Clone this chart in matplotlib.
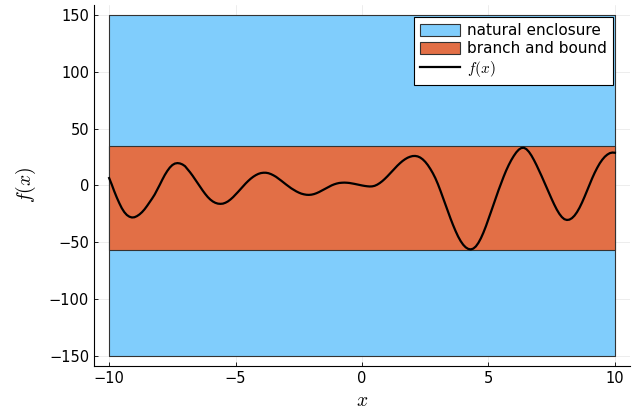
import matplotlib
matplotlib.use('Agg')
import matplotlib.pyplot as plt
import numpy as np

plt.rcParams['mathtext.fontset'] = 'cm'
plt.rcParams['font.family'] = 'DejaVu Sans'

BLUE = '#80CDFC'
ORANGE = '#E26F46'

# enclosures (x range and f range)
x_range = [-10, 10]
natural_enclosure = [-150, 150]
branch_and_bound = [-56.6, 34.7]

x_pts = np.linspace(-10, 10, 201)
f_pts = [
    6.5, 1.0, -5.0, -10.5, -15.5, -20.0, -23.5, -26.0, -27.5, -28.2,
    -28.0, -27.0, -25.5, -23.5, -21.0, -18.0, -14.8, -11.5, -8.0, -3.8,
    0.5, 5.0, 9.2, 12.8, 15.8, 18.0, 19.3, 19.7, 19.4, 18.5,
    17.0, 14.3, 11.6, 8.6, 5.3, 2.0, -1.2, -4.5, -7.5, -10.2,
    -12.4, -14.1, -15.3, -16.0, -16.2, -16.0, -15.2, -14.0, -12.3, -10.3,
    -8.0, -5.6, -3.1, -0.6, 1.8, 4.0, 6.0, 7.7, 9.1, 10.2,
    10.9, 11.2, 11.2, 10.8, 10.0, 8.9, 7.6, 6.0, 4.3, 2.5,
    0.8, -0.9, -2.5, -3.9, -5.2, -6.3, -7.2, -7.8, -8.2, -8.3,
    -8.1, -7.6, -6.8, -5.8, -4.6, -3.3, -2.1, -0.9, 0.1, 1.0,
    1.7, 2.2, 2.4, 2.5, 2.4, 2.2, 1.8, 1.4, 0.9, 0.4,
    0.0, -0.4, -0.7, -0.9, -0.8, -0.3, 0.7, 2.1, 3.8, 5.8,
    8.0, 10.4, 12.8, 15.2, 17.5, 19.6, 21.5, 23.1, 24.4, 25.3,
    25.9, 26.0, 25.6, 24.6, 23.0, 20.8, 18.0, 14.6, 10.8, 6.4,
    1.2, -4.6, -10.8, -17.0, -23.2, -29.2, -34.9, -40.2, -45.0, -49.0,
    -52.2, -54.5, -55.9, -56.3, -55.6, -53.7, -50.6, -46.5, -41.5, -35.8,
    -29.6, -23.2, -16.7, -10.3, -4.0, 2.0, 7.8, 13.2, 18.0, 22.3,
    26.0, 29.2, 31.6, 33.0, 33.2, 32.0, 29.6, 26.3, 22.3, 17.9,
    13.2, 8.3, 3.2, -1.9, -7.0, -12.0, -16.8, -21.2, -24.9, -27.8,
    -29.7, -30.4, -30.1, -28.8, -26.6, -23.5, -19.6, -15.0, -9.9, -4.5,
    1.0, 6.3, 11.2, 15.6, 19.5, 22.7, 25.3, 27.2, 28.5, 29.0,
    28.8,
]

fig = plt.figure(figsize=(6.41, 4.12), dpi=100)
ax = fig.add_axes([0.1466, 0.1117, 0.8364, 0.8763])

ax.fill_between(x_range, [natural_enclosure[0]] * 2, [natural_enclosure[1]] * 2,
                facecolor=BLUE, edgecolor='#333333', linewidth=0.8,
                label='natural enclosure', zorder=2)
ax.fill_between(x_range, [branch_and_bound[0]] * 2, [branch_and_bound[1]] * 2,
                facecolor=ORANGE, edgecolor='#333333', linewidth=0.8,
                label='branch and bound', zorder=3)
ax.plot(x_pts, f_pts, color='black', linewidth=1.6, label='$f(x)$', zorder=4)

ax.set_xlim(-10.6, 10.6)
ax.set_ylim(-159, 159)
ax.set_xticks([-10, -5, 0, 5, 10])
ax.set_yticks([-150, -100, -50, 0, 50, 100, 150])
ax.grid(True, color='black', alpha=0.1, linewidth=0.5, zorder=0)
ax.set_axisbelow(True)
for s in ['top', 'right']:
    ax.spines[s].set_visible(False)
ax.tick_params(direction='in', length=3, labelsize=10.5, width=0.6)

ax.set_xlabel('$x$', fontsize=14, labelpad=4)
ax.set_ylabel('$f(x)$', fontsize=14, labelpad=8)

leg = ax.legend(loc='upper right', bbox_to_anchor=(613 / 641, 1 - 17 / 412),
                bbox_transform=fig.transFigure, borderaxespad=0,
                fontsize=11, frameon=True, fancybox=False,
                framealpha=1, edgecolor='black', borderpad=0.4,
                handlelength=2.6, handleheight=0.9, labelspacing=0.2,
                handletextpad=0.45)
leg.get_frame().set_linewidth(0.8)

fig.savefig('out.png', dpi=100)
